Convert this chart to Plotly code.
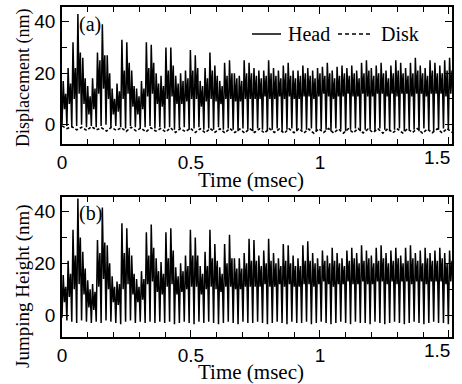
import plotly.graph_objects as go

# Sample grid: each slider bounce cycle is sampled at four instants
# (impact trough, main peak, mid level, secondary peak).
PERIOD = 0.01896      # msec per bounce cycle
N_CYC = 80

# ---------------- (a) head / disk displacement (nm) ----------------
head_trough = [0, -0.5, -1, -0.5, 0, -1, -0.5, -1, -0.5, 0,
               -1, -0.5, -1, -1.5, -0.5, -1, -1.5, -1, -0.5, -1.5,
               -1, -1.5, -1, -2, -1.5, -1, -2, -1.5, -1, -2,
               -1.5, -2, -1, -2, -1.5, -2, -2.5, -1.5, -2, -2.5,
               -1.5, -2, -2.5, -2, -1.5, -2.5, -2, -1.5, -2.5, -2,
               -2, -1.5, -2.5, -2, -2, -2.5, -1.5, -2, -2.5, -2,
               -1.5, -2.5, -2, -2, -2.5, -1.5, -2, -2.5, -2, -1.5,
               -2.5, -2, -2, -2.5, -1.5, -2, -2.5, -2, -1.5, -2]
head_peak = [17, 22, 32, 43, 26, 15, 18, 28, 39, 27,
             14, 16, 33, 32, 21, 14, 17, 32, 31, 20,
             19, 30, 30, 19, 20, 21, 29, 27, 17, 22,
             28, 23, 17, 24, 25, 20, 19, 25, 24, 22,
             21, 21, 25, 22, 21, 23, 24, 21, 21, 23,
             22, 21, 22, 22.5, 24, 21, 22.5, 23, 22, 23,
             21, 24, 25, 22, 23, 24, 21, 23, 25, 24,
             22, 24, 26, 23, 22, 25, 24, 23, 25, 26]
head_mid = [6, 8, 10, 12, 8, 4, 6, 12, 14, 10,
            4, 5, 10, 12, 7, 4, 6, 11, 12, 8,
            7, 10, 11, 8, 8, 9, 10, 10, 7, 9,
            10, 9, 8, 10, 10, 9, 9, 10, 10, 10,
            10, 11, 10, 10, 11, 10, 11, 10, 10, 11,
            11, 10, 11, 12, 11, 10, 11, 11, 12, 11,
            11, 12, 11, 11, 12, 12, 11, 12, 11, 12,
            12, 11, 12, 12, 11, 12, 12, 12, 11, 12]
head_peak2 = [12, 16, 22, 28, 18, 11, 14, 25, 27, 20,
              10, 13, 21, 24, 15, 11, 14, 22, 24, 16,
              15, 21, 23, 16, 17, 18, 21, 22, 15, 18,
              21, 19, 15, 19, 20, 18, 17, 20, 20, 19,
              18, 19, 20, 19, 18, 20, 19, 18, 19, 20,
              19, 18, 20, 19, 20, 18, 19, 20, 19, 20,
              18, 20, 21, 19, 20, 20, 18, 20, 21, 20,
              19, 20, 21, 20, 19, 21, 20, 20, 21, 21]
disk = [-0.5, -1.5, -0.8, -2, -1, -2.2, -0.8, -2, -1.2, -2.5,
        -1, -2.2, -1.2, -2.6, -1, -2.4, -1.3, -2.8, -1.2, -2.5,
        -1.5, -2.8, -1.3, -3, -1.5, -2.7, -1.4, -3, -1.6, -3.1,
        -1.5, -2.9, -1.6, -3.2, -1.5, -3, -1.7, -3.2, -1.5, -3,
        -1.6, -3.2, -1.5, -3, -1.7, -3.3, -1.6, -3.1, -1.5, -3.2,
        -1.7, -3.3, -1.6, -3, -1.5, -3.2, -1.7, -3.3, -1.6, -3.1,
        -1.5, -3.2, -1.7, -3, -1.6, -3.3, -1.5, -3.1, -1.7, -3.2,
        -1.6, -3, -1.5, -3.3, -1.7, -3.1, -1.6, -3.2, -1.5, -3]

# ---------------- (b) jumping height (nm) ----------------
jump_trough = [-1, -2, -2.5, -3, -2, -2.5, -3, -2.5, -3, -2,
               -2.5, -3, -3.5, -2.5, -2, -3, -2.5, -3, -2.5, -3,
               -2.5, -3, -2.5, -3.5, -3, -2.5, -3, -3.5, -2.5, -3,
               -2.5, -3, -3.5, -3, -2.5, -3, -3.5, -2.5, -3, -3,
               -2.5, -3, -3.5, -3, -2.5, -3, -3.5, -2.5, -3, -3,
               -2.5, -3.5, -3, -2.5, -3, -3.5, -3, -2.5, -3, -3.5,
               -2.5, -3, -3, -3.5, -2.5, -3, -3.5, -3, -2.5, -3,
               -3.5, -3, -2.5, -3, -3.5, -3, -2.5, -3, -3, -3.5]
jump_peak = [15.5, 21, 33, 45, 24.5, 13.5, 12, 29, 41.5, 27,
             15, 13, 35.5, 33.5, 23, 14, 17, 32, 35, 22,
             20.5, 32, 33.5, 18.5, 20, 23, 33, 30, 19, 24.5,
             33, 27.5, 18.5, 27.5, 31, 22, 22, 24, 29.5, 29,
             23, 25, 29.5, 24, 22, 27.5, 27, 23, 22, 27,
             28.5, 24, 22, 25, 23, 26, 24, 22, 25, 26,
             24, 27, 25, 23, 26, 27, 24, 25, 26, 23,
             26, 27, 24, 25, 26, 24, 25, 26, 24, 25]
jump_mid = [5, 7, 10, 12, 8, 3, 2, 11, 14, 10,
            5, 4, 10, 12, 8, 5, 6, 12, 13, 9,
            8, 11, 12, 8, 9, 10, 11, 11, 8, 10,
            11, 10, 9, 11, 11, 10, 10, 11, 11, 11,
            11, 12, 11, 11, 12, 11, 12, 11, 11, 12,
            12, 11, 12, 13, 12, 11, 12, 12, 13, 12,
            12, 13, 12, 12, 13, 13, 12, 13, 12, 13,
            13, 12, 13, 13, 12, 13, 13, 13, 12, 13]
jump_peak2 = [11, 16, 23, 30, 18, 10, 9, 24, 28, 20,
              11, 12, 24, 26, 16, 11, 14, 23, 26, 17,
              16, 22, 25, 15, 17, 19, 23, 23, 16, 19,
              22, 21, 16, 20, 22, 18, 18, 20, 21, 21,
              19, 20, 21, 20, 19, 21, 20, 19, 19, 21,
              21, 20, 19, 21, 20, 21, 20, 19, 21, 22,
              20, 21, 22, 20, 21, 22, 20, 21, 22, 20,
              21, 22, 21, 20, 22, 21, 21, 22, 20, 21]

x_ticks = [0, 0.5, 1, 1.5]
x_tick_labels = ['0', '0.5', '1', '1.5']
y_ticks = [0, 20, 40]

W, H = 462, 384
ML, MR, MT, MB = 62, 10, 7, 47
PW, PH = W - ML - MR, H - MT - MB


def px_x(p):
    return (p - ML) / PW


def px_y(p):
    return (H - MB - p) / PH


def bounce_series(trough, peak, mid, peak2):
    t, y = [], []
    for k, cyc in enumerate(zip(trough, peak, mid, peak2)):
        for j, v in enumerate(cyc):
            t.append((k + j / 4) * PERIOD)
            y.append(v)
    return t, y


t_head, y_head = bounce_series(head_trough, head_peak, head_mid, head_peak2)
t_jump, y_jump = bounce_series(jump_trough, jump_peak, jump_mid, jump_peak2)
disk_step = (N_CYC - 0.25) * PERIOD / (len(disk) - 1)
t_disk = [i * disk_step for i in range(len(disk))]

fig = go.Figure()
fig.add_trace(go.Scatter(x=t_head, y=y_head, mode='lines', name='Head',
                         line=dict(color='black', width=1.5), xaxis='x', yaxis='y'))
fig.add_trace(go.Scatter(x=t_disk, y=disk, mode='lines', name='Disk',
                         line=dict(color='black', width=1.6, dash='3px,2px'),
                         xaxis='x', yaxis='y'))
fig.add_trace(go.Scatter(x=t_jump, y=y_jump, mode='lines', name='Jumping height',
                         line=dict(color='black', width=1.5), xaxis='x2', yaxis='y2'))

serif = 'Liberation Serif, Times New Roman, serif'
sans = 'Liberation Sans, Arial, sans-serif'

# the last tick label sits flush with the right frame, so it is placed separately
x_common = dict(
    range=[0, 1.512], tickmode='array', tickvals=x_ticks,
    ticktext=x_tick_labels[:-1] + [''],
    automargin=False,
    ticks='inside', ticklen=7, tickwidth=1.3, tickcolor='black',
    minor=dict(dtick=0.1, tick0=0, ticks='inside', ticklen=5, tickwidth=1.2,
               tickcolor='black', showgrid=False),
    showline=True, linecolor='black', linewidth=1.6, mirror='ticks',
    showgrid=False, zeroline=False,
    tickfont=dict(family=sans, size=19, color='black'),
    ticklabelstandoff=0,
)
y_common = dict(
    tickmode='array', tickvals=y_ticks, automargin=False,
    ticks='inside', ticklen=7, tickwidth=1.3, tickcolor='black',
    minor=dict(dtick=10, tick0=0, ticks='inside', ticklen=5, tickwidth=1.2,
               tickcolor='black', showgrid=False),
    showline=True, linecolor='black', linewidth=1.6, mirror='ticks',
    showgrid=False, zeroline=False,
    tickfont=dict(family=sans, size=19, color='black'),
    ticklabelstandoff=1,
)

fig.update_layout(
    width=W, height=H, margin=dict(l=ML, r=MR, t=MT, b=MB, autoexpand=False),
    paper_bgcolor='white', plot_bgcolor='white', showlegend=False,
    xaxis=dict(x_common, domain=[0, 1], anchor='y'),
    yaxis=dict(y_common, domain=[px_y(144), 1], anchor='x', range=[-7.5, 45.7]),
    xaxis2=dict(x_common, domain=[0, 1], anchor='y2'),
    yaxis2=dict(y_common, domain=[0, px_y(197)], anchor='x2', range=[-8.4, 45.6]),
)

# legend drawn inside panel (a)
fig.add_shape(type='line', xref='paper', yref='paper',
              x0=px_x(252), x1=px_x(281), y0=px_y(34), y1=px_y(34),
              line=dict(color='black', width=1.5))
fig.add_shape(type='line', xref='paper', yref='paper',
              x0=px_x(338), x1=px_x(372), y0=px_y(34), y1=px_y(34),
              line=dict(color='black', width=1.5, dash='4px,3px'))


def label(text, x, y, family=serif, size=20, xanchor='center', angle=0):
    fig.add_annotation(text=text, x=px_x(x), y=px_y(y), xref='paper', yref='paper',
                       xanchor=xanchor, yanchor='middle', showarrow=False,
                       textangle=angle, font=dict(family=family, size=size, color='black'))


label('Head', 286, 34, xanchor='left')
label('Disk', 379, 34, xanchor='left')
label('(a)', 90, 24)
label('(b)', 90, 214)

for y_lab, y_title in [(158, 180), (350, 372)]:
    label(x_tick_labels[-1], 452, y_lab, family=sans, size=19, xanchor='right')
    label('Time (msec)', 251, y_title, size=21)

label('Displacement (nm)', 23, 78, size=18, angle=-90)
label('Jumping Height (nm)', 23, 286, size=19, angle=-90)

fig.write_html('out.html')
